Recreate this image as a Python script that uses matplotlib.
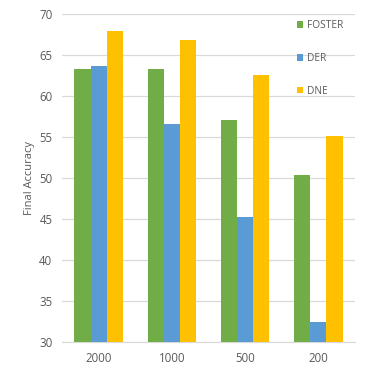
import matplotlib.pyplot as plt
import numpy as np

categories = ['2000', '1000', '500', '200']
foster = [63.3, 63.3, 57.1, 50.4]
der = [63.7, 56.6, 45.3, 32.4]
dne = [68.0, 66.9, 62.6, 55.1]
series = ['FOSTER', 'DER', 'DNE']
colors = ['#70AD47', '#5B9BD5', '#FFC000']

plt.rcParams['font.family'] = ['Open Sans', 'DejaVu Sans']
txt = '#595959'

fig = plt.figure(figsize=(3.74, 3.74), dpi=100)
ax = fig.add_axes([0.166, 0.0856, 0.783, 0.876])

x = np.arange(len(categories))
w = 0.222
for i, (vals, name) in enumerate(zip([foster, der, dne], series)):
    ax.bar(x + (i - 1) * w, np.array(vals) - 30, w, bottom=30, color=colors[i],
           label=name, zorder=3)

ax.set_xlim(-0.5, 3.5)
ax.set_ylim(30, 70)
ax.set_yticks(range(30, 71, 5))
ax.set_xticks(x)
ax.set_xticklabels(categories)
ax.grid(axis='y', color='#D9D9D9', linewidth=0.9, zorder=0)
for s in ['top', 'right', 'left']:
    ax.spines[s].set_visible(False)
ax.spines['bottom'].set_color('#D9D9D9')
ax.tick_params(length=0, labelsize=8.3, colors=txt, pad=7)
ax.set_ylabel('Final Accuracy', fontsize=8, color=txt, labelpad=3)

leg = ax.legend(loc='upper left', bbox_to_anchor=(0.77, 1.01), frameon=False,
                fontsize=7.3, handlelength=0.6, handleheight=0.6,
                handletextpad=0.4, labelspacing=2.15)
for t in leg.get_texts():
    t.set_color(txt)

fig.savefig('out.png', dpi=100)
